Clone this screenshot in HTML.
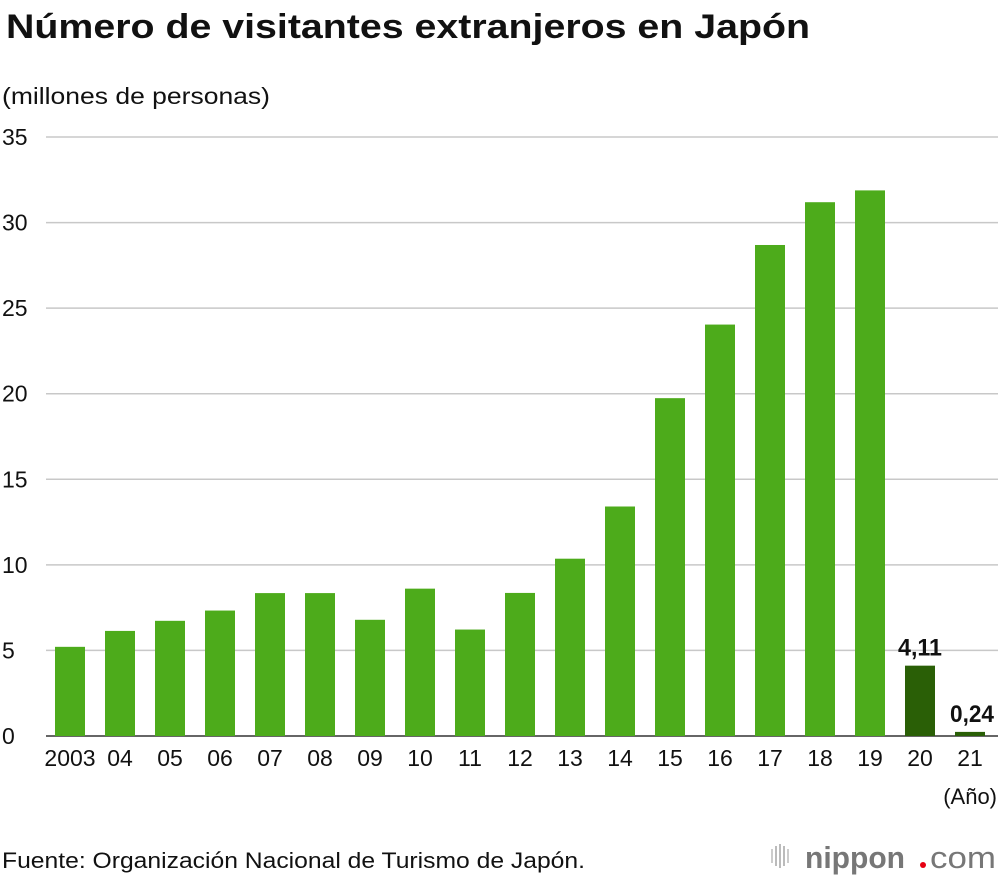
<!DOCTYPE html>
<html><head><meta charset="utf-8"><style>
body{margin:0;background:#fff;font-family:"Liberation Sans",sans-serif;}
</style></head><body>
<svg width="1000" height="880" xmlns="http://www.w3.org/2000/svg" id="c" font-family="Liberation Sans, sans-serif">
<text x="6" y="38" font-size="34" font-weight="bold" fill="#111" textLength="804" lengthAdjust="spacingAndGlyphs">Número de visitantes extranjeros en Japón</text>
<text x="2" y="104" font-size="23" fill="#111" textLength="268" lengthAdjust="spacingAndGlyphs">(millones de personas)</text>
<text x="997" y="804" font-size="22" fill="#111" text-anchor="end">(Año)</text>
<text x="2" y="868" font-size="22" fill="#111" textLength="583" lengthAdjust="spacingAndGlyphs">Fuente: Organización Nacional de Turismo de Japón.</text>
<g>
<rect x="771" y="849" width="2" height="14" fill="#ccc"/><rect x="775" y="846" width="2" height="20" fill="#bbb"/><rect x="779" y="844" width="2" height="24" fill="#bbb"/><rect x="783" y="846" width="2" height="20" fill="#bbb"/><rect x="787" y="849" width="2" height="14" fill="#ccc"/>
<text x="805" y="868" font-size="31" font-weight="bold" fill="#777" textLength="100" lengthAdjust="spacingAndGlyphs">nippon</text>
<circle cx="923" cy="865" r="3" fill="#e60012"/>
<text x="930" y="868" font-size="31" fill="#777" textLength="66" lengthAdjust="spacingAndGlyphs">com</text>
</g>
<g id="grid"></g><g id="bars"></g><g id="labels"></g>
</svg>
<script>
const years=["2003","04","05","06","07","08","09","10","11","12","13","14","15","16","17","18","19","20","21"];
const visitors=[5.21,6.14,6.73,7.33,8.35,8.35,6.79,8.61,6.22,8.36,10.36,13.41,19.74,24.04,28.69,31.19,31.88,4.11,0.24];
const yTicks=[0,5,10,15,20,25,30,35];
const printed=["","","","","","","","","","","","","","","","","","4,11","0,24"];
const NS="http://www.w3.org/2000/svg";
const y0=736,ppu=(736-137)/35;
const yS=v=>y0-v*ppu, xS=i=>70+i*50;
function mk(t,a,p){const e=document.createElementNS(NS,t);for(const k in a)e.setAttribute(k,a[k]);p.appendChild(e);return e;}
const g=document.getElementById('grid'),b=document.getElementById('bars'),l=document.getElementById('labels');
yTicks.forEach(v=>{
 const ln=mk('line',{x1:46,x2:998,y1:yS(v),y2:yS(v),stroke:v?'#c8c8c8':'#333','stroke-width':1.5},g);
 
 
 const t=mk('text',{x:2,y:yS(v)+8,'font-size':23,fill:'#111'},g);t.textContent=v;
 
 
});
visitors.forEach((v,i)=>{
 const r=mk('rect',{x:xS(i)-15,y:yS(v),width:30,height:y0-yS(v),fill:i>=17?'#2a5f06':'#4dab1b'},b);
 
 
 const t=mk('text',{x:xS(i),y:766,'font-size':23,fill:'#111','text-anchor':'middle'},l);t.textContent=years[i];
 
 
 if(printed[i]){const p=mk('text',{x:xS(i)+(i==18?2:0),y:yS(v)-10,'font-size':24,'font-weight':'bold',fill:'#111','text-anchor':'middle',textLength:44,lengthAdjust:'spacingAndGlyphs'},l);p.textContent=printed[i];
 
 }
});
</script>
</body></html>
